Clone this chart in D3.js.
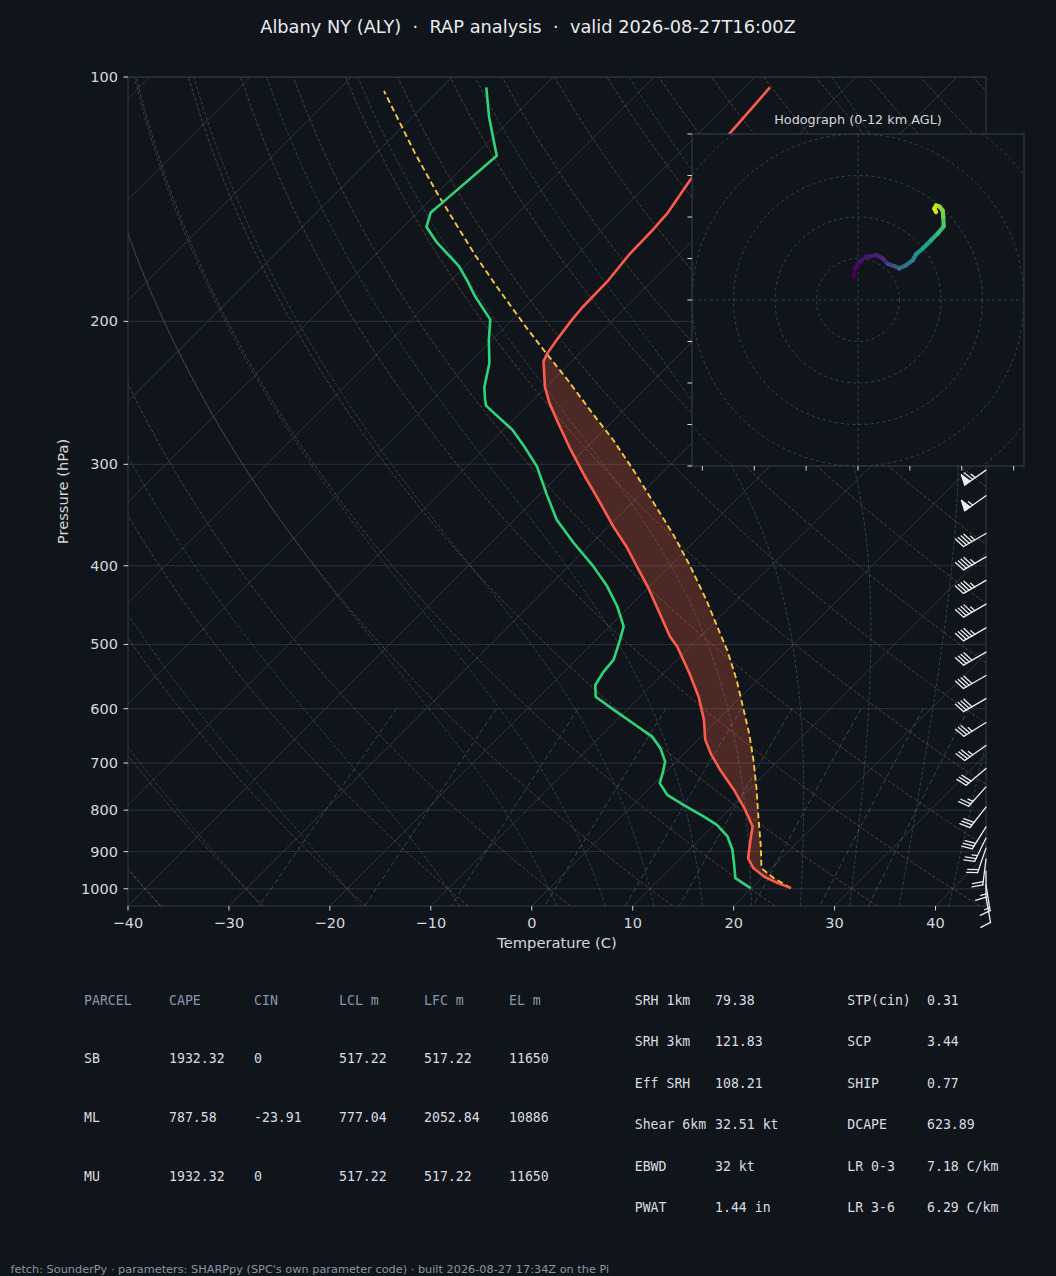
<!DOCTYPE html>
<html>
<head>
<meta charset="utf-8">
<script src="https://cdn.jsdelivr.net/npm/d3@7"></script>
<style>
  html, body { margin: 0; padding: 0; background: #10151c; }
  svg { display: block; }
  text { font-family: "DejaVu Sans", sans-serif; white-space: pre; }
  .mono text { font-family: "DejaVu Sans Mono", monospace; }
</style>
</head>
<body>
<svg id="chart" width="1056" height="1276"></svg>
<script>
// sounding (hPa, degC)
const tempLevels = [998, 984, 966, 943, 917, 870, 838, 799, 755, 714, 681, 655, 619, 580, 543, 503, 489, 458, 424, 401, 379, 358, 335, 311, 287, 267, 252, 241, 227, 224, 219, 211, 199, 192, 178, 165, 154, 147, 133, 118, 103];
const temperature = [23.9, 22.1, 20.1, 18.2, 16.7, 15.1, 14.0, 11.6, 8.5, 5.2, 2.6, 0.7, -1.4, -4.2, -7.4, -11.3, -13.0, -16.3, -20.2, -23.2, -26.2, -29.5, -33.1, -37.2, -41.5, -45.2, -48.1, -50.1, -52.3, -52.8, -53.2, -53.6, -54.1, -54.3, -54.4, -54.9, -55.0, -55.2, -56.3, -56.9, -57.5];

const dewLevels = [998, 970, 930, 895, 862, 834, 815, 788, 766, 741, 720, 697, 671, 649, 631, 602, 580, 561, 540, 522, 494, 475, 449, 424, 401, 375, 351, 326, 302, 285, 272, 260, 254, 249, 241, 225, 211, 199, 186, 178, 171, 160, 153, 147, 142, 125, 112, 103];
const dewpoint = [19.9, 17.4, 15.8, 14.3, 12.5, 10.3, 8.2, 5.0, 2.4, 0.5, -0.2, -1.1, -2.9, -4.9, -7.3, -11.3, -14.4, -15.6, -16.1, -16.3, -17.6, -18.6, -21.2, -24.2, -27.5, -31.8, -35.8, -39.4, -43.0, -46.3, -49.1, -52.4, -54.1, -54.9, -56.1, -58.0, -60.3, -62.2, -66.1, -68.4, -70.6, -75.1, -77.7, -78.7, -78.5, -77.8, -82.4, -85.6];

// surface based parcel
const parcelLevels = [998, 970, 943, 887, 815, 748, 694, 643, 597, 553, 508, 494, 441, 401, 368, 335, 305, 280, 260, 236, 219, 204, 181, 166, 149, 139, 124, 114, 104];
const parcelTemp = [23.9, 21.2, 19.0, 16.8, 13.6, 10.4, 7.5, 4.4, 1.2, -2.1, -6.0, -7.4, -13.0, -17.9, -22.5, -27.8, -33.1, -38.1, -42.7, -48.6, -53.3, -57.7, -64.9, -70.0, -76.1, -80.0, -86.2, -90.6, -95.4];

// wind barbs (hPa, deg from, kt)
const barbLevels = [205, 225, 245, 265, 285, 305, 328, 365, 390, 417, 446, 477, 511, 546, 583, 624, 666, 711, 749, 793, 839, 866, 891, 919, 951, 989, 1023];
const barbDir = [235, 235, 235, 235, 235, 235, 235, 240, 240, 240, 240, 240, 240, 240, 240, 238, 235, 230, 222, 218, 212, 206, 199, 187, 180, 171, 170];
const barbSpeed = [60, 60, 60, 60, 60, 65, 55, 45, 45, 45, 45, 45, 40, 40, 40, 35, 35, 30, 25, 30, 30, 25, 20, 20, 15, 15, 10];

// hodograph (kt, km AGL)
const hodoU = [-2.1, -1.6, 0.8, 4.0, 8.8, 12.0, 14.4, 17.6, 20.0, 23.2, 26.4, 28.0, 31.2, 35.2, 38.4, 41.3, 41.1, 40.8, 39.2, 37.6, 36.8, 37.6];
const hodoV = [11.2, 15.2, 18.4, 20.8, 21.6, 20.0, 17.3, 16.3, 15.2, 16.8, 19.2, 22.1, 24.8, 28.8, 32.0, 35.5, 40.0, 43.2, 45.1, 45.6, 44.0, 42.4];
const hodoHeight = [0, 0.25, 0.5, 0.8, 1.1, 1.4, 2.4, 3.2, 4.2, 4.8, 5.4, 6.0, 7.0, 7.6, 8.2, 8.8, 9.4, 9.8, 10.4, 10.9, 11.4, 12.0];

const pressureTicks = [100, 200, 300, 400, 500, 600, 700, 800, 900, 1000];
const tempTicks = [-40, -30, -20, -10, 0, 10, 20, 30, 40];
const hodoRings = [20, 40, 60, 80, 100, 120];
const hodoTicksV = [-80, -60, -40, -20, 0, 20, 40, 60, 80];
const hodoTicksU = [-75, -50, -25, 0, 25, 50, 75];
const mixingRatios = [0.4, 1, 2, 4, 7, 10, 16, 24, 32];

const parcelHeader = ['PARCEL', 'CAPE', 'CIN', 'LCL m', 'LFC m', 'EL m'];
const parcelRows = [
    ['SB', '1932.32', '0', '517.22', '517.22', '11650'],
    ['ML', '787.58', '-23.91', '777.04', '2052.84', '10886'],
    ['MU', '1932.32', '0', '517.22', '517.22', '11650']
];
const indexNames = [
    ['SRH 1km', 'SRH 3km', 'Eff SRH', 'Shear 6km', 'EBWD', 'PWAT'],
    ['STP(cin)', 'SCP', 'SHIP', 'DCAPE', 'LR 0-3', 'LR 3-6']
];
const indexValues = [
    ['79.38', '121.83', '108.21', '32.51 kt', '32 kt', '1.44 in'],
    ['0.31', '3.44', '0.77', '623.89', '7.18 C/km', '6.29 C/km']
];

const titleText = 'Albany NY (ALY)  \u00b7  RAP analysis  \u00b7  valid 2026-08-27T16:00Z';
const footerText = "fetch: SounderPy \u00b7 parameters: SHARPpy (SPC's own parameter code) \u00b7 built 2026-08-27 17:34Z on the Pi";

const BG = '#10151c';
const svg = d3.select('#chart');
const plot = {left: 128, right: 986, top: 77, bottom: 906};

const x = d3.scaleLinear().domain([-40, 45]).range([plot.left, plot.right]);
const y = d3.scaleLog().domain([1050, 100]).range([plot.bottom, plot.top]);

function skewX(t, p) {
    return x(t) + (plot.bottom - y(p));
}

function dryLapse(p, t0) {
    return (t0 + 273.15) * Math.pow(p / 1000, 0.28571) - 273.15;
}

function satMixing(p, tc) {
    var es = 6.112 * Math.exp(17.67 * tc / (tc + 243.5));
    return 0.62196 * es / (p - es);
}

function moistSlope(p, tk) {
    var rs = satMixing(p, tk - 273.15);
    var num = 287.05 * tk + 2.501e6 * rs;
    var den = 1004.67 + (2.501e6 * 2.501e6 * rs * 0.62196) / (287.05 * tk * tk);
    return num / den / p;
}

function rk4(p, t, h) {
    var k1 = moistSlope(p, t),
        k2 = moistSlope(p + h / 2, t + h * k1 / 2),
        k3 = moistSlope(p + h / 2, t + h * k2 / 2),
        k4 = moistSlope(p + h, t + h * k3);
    return t + h * (k1 + 2 * k2 + 2 * k3 + k4) / 6;
}

function moistAdiabat(t0) {
    var p = 1000, tk = t0 + 273.15;
    var up = [[p, tk]];
    while (p > 100) {
        var h = Math.max(-5, 100 - p);
        tk = rk4(p, tk, h);
        p += h;
        up.push([p, tk]);
    }
    var down = [];
    p = 1000; tk = t0 + 273.15;
    while (p < 1050) {
        tk = rk4(p, tk, 5);
        p += 5;
        down.push([p, tk]);
    }
    return down.reverse().concat(up).map(function(d) { return [d[0], d[1] - 273.15]; });
}

function mixingDewpoint(w, p) {
    var e = w * p / (621.96 + w);
    var l = Math.log(e / 6.112);
    return 243.5 * l / (17.67 - l);
}

function interpProfile(levels, vals, p) {
    for (var i = 0; i < levels.length - 1; i++) {
        var p0 = levels[i], p1 = levels[i + 1];
        if (p <= p0 && p >= p1) {
            var f = Math.log(p0 / p) / Math.log(p0 / p1);
            return vals[i] + f * (vals[i + 1] - vals[i]);
        }
    }
    return NaN;
}

// polygons where the parcel is warmer than the environment
function capeAreas() {
    var top = Math.max(tempLevels[tempLevels.length - 1], parcelLevels[parcelLevels.length - 1]);
    var bot = Math.min(tempLevels[0], parcelLevels[0]);
    var ps = Array.from(new Set(tempLevels.concat(parcelLevels)))
        .filter(function(p) { return p <= bot && p >= top; })
        .sort(function(a, b) { return b - a; });
    var rows = ps.map(function(p) {
        return [p, interpProfile(parcelLevels, parcelTemp, p), interpProfile(tempLevels, temperature, p)];
    });
    var areas = [], cur = null;
    for (var i = 0; i < rows.length; i++) {
        var r = rows[i], dr = r[1] - r[2];
        if (i > 0) {
            var q = rows[i - 1], dq = q[1] - q[2];
            if ((dq > 0) != (dr > 0) && dq != dr) {
                var f = dq / (dq - dr);
                var pc = Math.exp(Math.log(q[0]) + f * (Math.log(r[0]) - Math.log(q[0])));
                var tc = q[2] + f * (r[2] - q[2]);
                if (cur) { cur.push([pc, tc, tc]); areas.push(cur); cur = null; }
                else cur = [[pc, tc, tc]];
            }
        }
        if (dr > 0) { if (!cur) cur = []; cur.push(r); }
    }
    if (cur) areas.push(cur);
    return areas;
}

svg.append('rect').attr('width', 1056).attr('height', 1276).attr('fill', BG);

svg.append('defs').append('clipPath').attr('id', 'plot-clip')
    .append('rect')
    .attr('x', plot.left).attr('y', plot.top)
    .attr('width', plot.right - plot.left).attr('height', plot.bottom - plot.top);

const g = svg.append('g').attr('clip-path', 'url(#plot-clip)');
const profLine = d3.line().x(function(d) { return skewX(d[1], d[0]); }).y(function(d) { return y(d[0]); });

// isobars and isotherms
g.selectAll('.isobar').data(pressureTicks).enter()
    .append('line')
    .attr('x1', plot.left).attr('x2', plot.right)
    .attr('y1', function(d) { return y(d); }).attr('y2', function(d) { return y(d); })
    .attr('stroke', '#2a323d').attr('stroke-width', 1);

g.selectAll('.isotherm').data(d3.range(-130, 50, 10)).enter()
    .append('line')
    .attr('x1', function(d) { return skewX(d, 1050); }).attr('y1', y(1050))
    .attr('x2', function(d) { return skewX(d, 100); }).attr('y2', y(100))
    .attr('stroke', '#2c3540').attr('stroke-width', 1);

const adiabatP = d3.range(1050, 99, -10);
g.selectAll('.dry').data(d3.range(-40, 250, 10)).enter()
    .append('path')
    .attr('d', function(t0) { return profLine(adiabatP.map(function(p) { return [p, dryLapse(p, t0)]; })); })
    .attr('fill', 'none').attr('stroke', '#d08e46').attr('stroke-opacity', 0.38)
    .attr('stroke-width', 0.9).attr('stroke-dasharray', '3.5,1.8');

g.selectAll('.moist').data([-40, -30, -20, -10, 0, 5, 10, 15, 20, 25, 30, 35, 40, 45]).enter()
    .append('path')
    .attr('d', function(t0) { return profLine(moistAdiabat(t0)); })
    .attr('fill', 'none').attr('stroke', '#5f93a8').attr('stroke-opacity', 0.38)
    .attr('stroke-width', 0.9).attr('stroke-dasharray', '3.5,1.8');

const mixP = d3.range(600, 1051, 10);
g.selectAll('.mixing').data(mixingRatios).enter()
    .append('path')
    .attr('d', function(w) { return profLine(mixP.map(function(p) { return [p, mixingDewpoint(w, p)]; })); })
    .attr('fill', 'none').attr('stroke', '#5f93a8').attr('stroke-opacity', 0.45)
    .attr('stroke-width', 0.9).attr('stroke-dasharray', '5,3');

// CAPE shading
capeAreas().forEach(function(a) {
    var pts = a.map(function(r) { return [r[0], r[1]]; })
        .concat(a.slice().reverse().map(function(r) { return [r[0], r[2]]; }));
    g.append('path').attr('d', profLine(pts) + 'Z')
        .attr('fill', '#ff6347').attr('fill-opacity', 0.26).attr('stroke', 'none');
});

g.append('path')
    .attr('d', profLine(parcelLevels.map(function(p, i) { return [p, parcelTemp[i]]; })))
    .attr('fill', 'none').attr('stroke', '#f5c542').attr('stroke-width', 1.9)
    .attr('stroke-dasharray', '6,3.5').attr('stroke-linejoin', 'round');

g.append('path')
    .attr('d', profLine(tempLevels.map(function(p, i) { return [p, temperature[i]]; })))
    .attr('fill', 'none').attr('stroke', '#ff5b4a').attr('stroke-width', 2.6)
    .attr('stroke-linejoin', 'round');

g.append('path')
    .attr('d', profLine(dewLevels.map(function(p, i) { return [p, dewpoint[i]]; })))
    .attr('fill', 'none').attr('stroke', '#2ed47a').attr('stroke-width', 2.6)
    .attr('stroke-linejoin', 'round');

// axes
svg.append('rect')
    .attr('x', plot.left).attr('y', plot.top)
    .attr('width', plot.right - plot.left).attr('height', plot.bottom - plot.top)
    .attr('fill', 'none').attr('stroke', '#343d49').attr('stroke-width', 1);

svg.selectAll('.ytick').data(pressureTicks).enter()
    .append('line')
    .attr('x1', plot.left - 4.5).attr('x2', plot.left)
    .attr('y1', function(d) { return y(d); }).attr('y2', function(d) { return y(d); })
    .attr('stroke', '#d4d8de').attr('stroke-width', 1);

svg.selectAll('.ylab').data(pressureTicks).enter()
    .append('text')
    .attr('x', plot.left - 10).attr('y', function(d) { return y(d); })
    .attr('dy', '0.35em').attr('text-anchor', 'end')
    .attr('fill', '#d4d8de').style('font-size', '14.5px')
    .text(function(d) { return d; });

svg.selectAll('.xtick').data(tempTicks).enter()
    .append('line')
    .attr('x1', function(d) { return x(d); }).attr('x2', function(d) { return x(d); })
    .attr('y1', plot.bottom).attr('y2', plot.bottom + 4.5)
    .attr('stroke', '#d4d8de').attr('stroke-width', 1);

svg.selectAll('.xlab').data(tempTicks).enter()
    .append('text')
    .attr('x', function(d) { return x(d); }).attr('y', plot.bottom + 17)
    .attr('dy', '0.35em').attr('text-anchor', 'middle')
    .attr('fill', '#d4d8de').style('font-size', '14.5px')
    .text(function(d) { return d < 0 ? '\u2212' + Math.abs(d) : d; });

svg.append('text')
    .attr('x', (plot.left + plot.right) / 2).attr('y', 943).attr('dy', '0.35em')
    .attr('text-anchor', 'middle').attr('fill', '#d4d8de').style('font-size', '14.7px')
    .text('Temperature (C)');

svg.append('text')
    .attr('transform', 'translate(63,' + ((plot.top + plot.bottom) / 2) + ') rotate(-90)')
    .attr('dy', '0.35em').attr('text-anchor', 'middle')
    .attr('fill', '#d4d8de').style('font-size', '14.7px')
    .text('Pressure (hPa)');

svg.append('text')
    .attr('x', 528).attr('y', 27).attr('dy', '0.35em')
    .attr('text-anchor', 'middle').attr('fill', '#e8eaee').style('font-size', '17.8px')
    .text(titleText);

// wind barbs, matplotlib style geometry
function drawBarb(sel, bx, by, speed, dir) {
    var L = 26, fh = 0.4 * L, fw = 0.25 * L, sp = 0.125 * L;
    var r = dir * Math.PI / 180, c = Math.cos(r), s = Math.sin(r);
    function pt(a, b) { return [bx + a * c + b * s, by - (-a * s + b * c)]; }
    var v = Math.round(speed / 5) * 5;
    var nflags = Math.floor(v / 50); v -= nflags * 50;
    var nbarbs = Math.floor(v / 10); v -= nbarbs * 10;
    var half = v >= 5;
    var off = L;
    var bg = sel.append('g');
    var p0 = pt(0, 0), p1 = pt(0, L);
    bg.append('line').attr('x1', p0[0]).attr('y1', p0[1]).attr('x2', p1[0]).attr('y2', p1[1]);
    for (var i = 0; i < nflags; i++) {
        if (off != L) off += sp / 2;
        var tri = [pt(0, off), pt(fh, off - fw / 2), pt(0, off - fw)];
        bg.append('polygon').attr('points', tri.map(function(q) { return q.join(','); }).join(' '));
        off -= fw + sp;
    }
    for (var j = 0; j < nbarbs; j++) {
        var a0 = pt(0, off), a1 = pt(fh, off + fw / 2);
        bg.append('line').attr('x1', a0[0]).attr('y1', a0[1]).attr('x2', a1[0]).attr('y2', a1[1]);
        off -= sp;
    }
    if (half) {
        if (off == L) off -= 1.5 * sp;
        var h0 = pt(0, off), h1 = pt(fh / 2, off + fw / 4);
        bg.append('line').attr('x1', h0[0]).attr('y1', h0[1]).attr('x2', h1[0]).attr('y2', h1[1]);
    }
}

const barbs = svg.append('g').attr('stroke', '#eceef1').attr('fill', '#eceef1')
    .attr('stroke-width', 1.3).attr('stroke-linecap', 'round').attr('stroke-linejoin', 'round');
barbLevels.forEach(function(p, i) {
    drawBarb(barbs, plot.right, y(p), barbSpeed[i], barbDir[i]);
});

// hodograph inset
const hodo = {left: 692, right: 1024, top: 134, bottom: 466};
const hx = d3.scaleLinear().domain([-80, 80]).range([hodo.left, hodo.right]);
const hy = d3.scaleLinear().domain([-80, 80]).range([hodo.bottom, hodo.top]);

svg.select('defs').append('clipPath').attr('id', 'hodo-clip')
    .append('rect')
    .attr('x', hodo.left).attr('y', hodo.top)
    .attr('width', hodo.right - hodo.left).attr('height', hodo.bottom - hodo.top);

svg.append('rect')
    .attr('x', hodo.left).attr('y', hodo.top)
    .attr('width', hodo.right - hodo.left).attr('height', hodo.bottom - hodo.top)
    .attr('fill', BG);

const hg = svg.append('g').attr('clip-path', 'url(#hodo-clip)');
hg.selectAll('.ring').data(hodoRings).enter()
    .append('circle')
    .attr('cx', hx(0)).attr('cy', hy(0))
    .attr('r', function(d) { return hx(d) - hx(0); })
    .attr('fill', 'none').attr('stroke', '#3a4656').attr('stroke-width', 0.9)
    .attr('stroke-dasharray', '3,3');
hg.append('line')
    .attr('x1', hodo.left).attr('x2', hodo.right).attr('y1', hy(0)).attr('y2', hy(0))
    .attr('stroke', '#3a4656').attr('stroke-width', 0.9).attr('stroke-dasharray', '3,3');
hg.append('line')
    .attr('x1', hx(0)).attr('x2', hx(0)).attr('y1', hodo.top).attr('y2', hodo.bottom)
    .attr('stroke', '#3a4656').attr('stroke-width', 0.9).attr('stroke-dasharray', '3,3');

for (var i = 0; i < hodoU.length - 1; i++) {
    hg.append('line')
        .attr('x1', hx(hodoU[i])).attr('y1', hy(hodoV[i]))
        .attr('x2', hx(hodoU[i + 1])).attr('y2', hy(hodoV[i + 1]))
        .attr('stroke', d3.interpolateViridis(hodoHeight[i] / 12))
        .attr('stroke-width', 4.2).attr('stroke-linecap', 'round');
}

svg.append('rect')
    .attr('x', hodo.left).attr('y', hodo.top)
    .attr('width', hodo.right - hodo.left).attr('height', hodo.bottom - hodo.top)
    .attr('fill', 'none').attr('stroke', '#37414e').attr('stroke-width', 1);

svg.selectAll('.htickv').data(hodoTicksV).enter()
    .append('line')
    .attr('x1', hodo.left - 4.5).attr('x2', hodo.left)
    .attr('y1', function(d) { return hy(d); }).attr('y2', function(d) { return hy(d); })
    .attr('stroke', '#d4d8de').attr('stroke-width', 1);
svg.selectAll('.hticku').data(hodoTicksU).enter()
    .append('line')
    .attr('x1', function(d) { return hx(d); }).attr('x2', function(d) { return hx(d); })
    .attr('y1', hodo.bottom).attr('y2', hodo.bottom + 4.5)
    .attr('stroke', '#d4d8de').attr('stroke-width', 1);

svg.append('text')
    .attr('x', (hodo.left + hodo.right) / 2).attr('y', 120).attr('dy', '0.35em')
    .attr('text-anchor', 'middle').attr('fill', '#d4d8de').style('font-size', '12.8px')
    .text('Hodograph (0-12 km AGL)');

// parameter tables
const colX = [84, 169, 254, 339, 424, 509];
const rowY = [1000, 1058.5, 1117, 1176];
const tbl = svg.append('g').attr('class', 'mono').style('font-size', '13.2px');
parcelHeader.forEach(function(h, j) {
    tbl.append('text').attr('x', colX[j]).attr('y', rowY[0]).attr('dy', '0.35em')
        .attr('fill', '#8796aa').text(h);
});
parcelRows.forEach(function(row, i) {
    row.forEach(function(v, j) {
        tbl.append('text').attr('x', colX[j]).attr('y', rowY[i + 1]).attr('dy', '0.35em')
            .attr('fill', '#d8dce2').text(v);
    });
});

const idxX = [[634.7, 715], [847.3, 927]];
indexNames.forEach(function(col, k) {
    col.forEach(function(name, i) {
        var yy = 1000 + i * 41.5;
        tbl.append('text').attr('x', idxX[k][0]).attr('y', yy).attr('dy', '0.35em')
            .attr('fill', '#d8dce2').text(name);
        tbl.append('text').attr('x', idxX[k][1]).attr('y', yy).attr('dy', '0.35em')
            .attr('fill', '#d8dce2').text(indexValues[k][i]);
    });
});

svg.append('text')
    .attr('x', 10.5).attr('y', 1269).attr('dy', '0.35em')
    .attr('fill', '#8a94a3').style('font-size', '11.3px')
    .text(footerText);
</script>
</body>
</html>
